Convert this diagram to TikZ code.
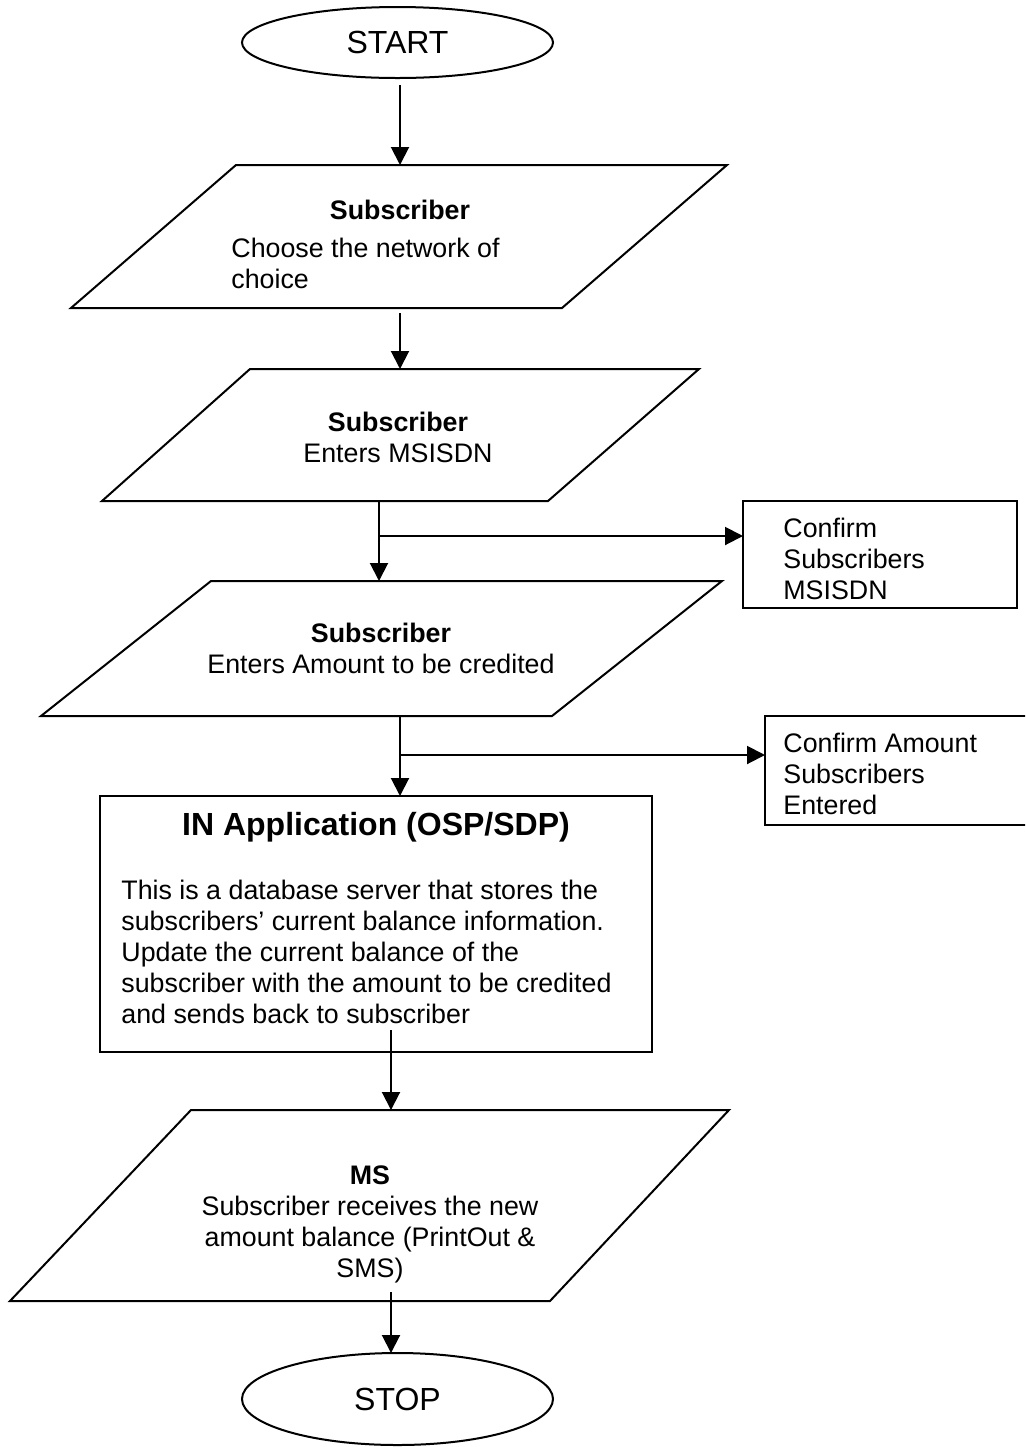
\documentclass[tikz,border=0pt]{standalone}
\usepackage{fontspec}
\setmainfont{Liberation Sans}
\usetikzlibrary{arrows.meta,shapes.geometric}
\tikzset{
  lw/.style={line width=1pt},
  shape line/.style={draw=black, line width=1pt},
  flow/.style={draw=black, line width=1pt, -{Triangle[length=9pt,width=9pt]}},
  txt/.style={inner sep=0pt, font=\fontsize{13.4}{15.5}\selectfont},
  big/.style={inner sep=0pt, font=\fontsize{16}{19}\selectfont},
  term/.style={ellipse, shape line, inner sep=0pt, font=\fontsize{16}{19}\selectfont},
}
\begin{document}
\begin{tikzpicture}[x=0.5pt,y=-0.5pt]
\clip (0,0) rectangle (1025,1447);
\fill[white] (0,0) rectangle (1025,1447);

% START / STOP
\node[term, minimum width=155.5pt, minimum height=35.5pt] (start) at (397.5,42.5) {START};
\node[term, minimum width=155.5pt, minimum height=46pt] (stop) at (397.5,1399) {STOP};

% Parallelograms
\draw[shape line] (236,165) coordinate (p1tl) -- (727,165) -- (562,308) -- (71,308) -- cycle;
\draw[shape line] (250,369) coordinate (p2tl) -- (699,369) -- (548,501) -- (102,501) -- cycle;
\draw[shape line] (211,581) coordinate (p3tl) -- (722,581) -- (552,716) -- (41,716) -- cycle;
\draw[shape line] (191,1110) coordinate (p4tl) -- (729,1110) -- (550,1301) -- (10,1301) -- cycle;

% Boxes
\draw[shape line] (100,796) rectangle (652,1052);
\draw[shape line] (743,501) rectangle (1017,608);
\draw[shape line] (765,716) rectangle (1045,825);

% Texts
\node[txt, anchor=north, align=center] (t1a) at (400,200) {\textbf{Subscriber}};
\node[txt, anchor=north west, align=left] (t1b) at (231,238) {Choose the network of\\choice};
\node[txt, anchor=north, align=center] (t2) at (398,412) {\textbf{Subscriber}\\Enters MSISDN};
\node[txt, anchor=north, align=center] (t3) at (381,623) {\textbf{Subscriber}\\Enters Amount to be credited};
\node[txt, anchor=north west, align=left] (c1) at (783,518) {Confirm\\Subscribers\\MSISDN};
\node[txt, anchor=north west, align=left] (c2) at (783,733) {Confirm Amount\\Subscribers\\Entered};
\node[big] (intitle) at (376,827) {\textbf{IN Application (OSP/SDP)}};
\node[txt, anchor=north west, align=left] (inbody) at (121,880) {This is a database server that stores the\\subscribers’ current balance information.\\Update the current balance of the\\subscriber with the amount to be credited\\and sends back to subscriber};
\node[txt, anchor=north, align=center] (t4) at (370,1165) {\textbf{MS}\\Subscriber receives the new\\amount balance (PrintOut \&\\SMS)};

% Connector coordinates
\coordinate (a1s) at (400,85);   \coordinate (a1e) at (400,165);
\coordinate (a2s) at (400,313);  \coordinate (a2e) at (400,369);
\coordinate (a3s) at (379,501);  \coordinate (a3e) at (379,581);
\coordinate (b3s) at (379,536);  \coordinate (b3e) at (743,536);
\coordinate (a4s) at (400,716);  \coordinate (a4e) at (400,796);
\coordinate (b4s) at (400,755);  \coordinate (b4e) at (765,755);
\coordinate (a5s) at (391,1030); \coordinate (a5e) at (391,1110);
\coordinate (a6s) at (391,1292); \coordinate (a6e) at (391,1353);

\draw[flow] (a1s) -- (a1e);
\draw[flow] (a2s) -- (a2e);
\draw[flow] (a3s) -- (a3e);
\draw[flow] (b3s) -- (b3e);
\draw[flow] (a4s) -- (a4e);
\draw[flow] (b4s) -- (b4e);
\draw[flow] (a5s) -- (a5e);
\draw[flow] (a6s) -- (a6e);
\end{tikzpicture}
\end{document}
